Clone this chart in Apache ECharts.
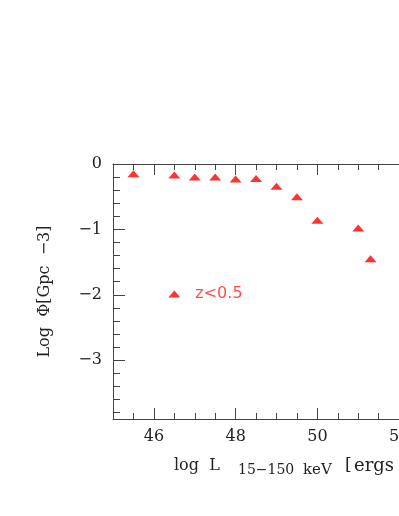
<!DOCTYPE html>
<html>
<head>
<meta charset="utf-8">
<script src="https://cdn.jsdelivr.net/npm/echarts@6/dist/echarts.min.js"></script>
<style>
  html, body { margin: 0; padding: 0; background: #fff; }
  #chart { width: 399px; height: 516px; }
</style>
</head>
<body>
<div id="chart"></div>
<script>
// luminosity function points, z < 0.5
var logL = [45.5, 46.5, 47, 47.5, 48, 48.5, 49, 49.5, 50, 51, 51.3]
var logPhi = [-0.15, -0.17, -0.2, -0.2, -0.23, -0.22, -0.34, -0.5, -0.86, -0.98, -1.45]
// key marker for the label "z<0.5"
var keyPoint = [46.5, -1.99]
var keyText = 'z<0.5'

var xMajor = [46, 48, 50, 52]
var xMinor = [45.5, 46.5, 47, 47.5, 48.5, 49, 49.5, 50.5, 51, 51.5, 52.5]
var yMajor = [0, -1, -2, -3]
var yMinor = [-0.2, -0.4, -0.6, -0.8, -1.2, -1.4, -1.6, -1.8, -2.2, -2.4, -2.6, -2.8, -3.2, -3.4, -3.6, -3.8]

var lineColor = '#444'
var serif = 'DejaVu Serif'

function xAx (pos, ticks, len, showLine, showLabel) {
  return {
    type: 'value', position: pos, min: 45, max: 53,
    axisLine: { show: showLine, onZero: false, lineStyle: { color: lineColor, width: 1 } },
    splitLine: { show: false },
    axisTick: { show: true, inside: true, length: len, customValues: ticks, lineStyle: { color: lineColor } },
    axisLabel: {
      show: showLabel, customValues: ticks, margin: 10,
      fontFamily: serif, fontSize: 16, color: '#222'
    }
  }
}

function yAx (pos, ticks, len, showLine, showLabel) {
  return {
    type: 'value', position: pos, min: -3.9, max: 0,
    axisLine: { show: showLine, onZero: false, lineStyle: { color: lineColor, width: 1 } },
    splitLine: { show: false },
    axisTick: { show: true, inside: true, length: len, customValues: ticks, lineStyle: { color: lineColor } },
    axisLabel: {
      show: showLabel, customValues: ticks, margin: 11,
      fontFamily: serif, fontSize: 16, color: '#222',
      formatter: function (v) { return String(v).replace('-', '\u2212') }
    }
  }
}

var chart = echarts.init(document.getElementById('chart'))

var option = {
  animation: false,
  backgroundColor: '#fff',
  grid: { left: 113, top: 164, width: 327, height: 255, outerBoundsMode: 'none', containLabel: false },
  xAxis: [
    xAx('bottom', xMajor, 11, true, true),
    xAx('bottom', xMinor, 6, false, false),
    xAx('top', xMajor, 11, true, false),
    xAx('top', xMinor, 6, false, false)
  ],
  yAxis: [
    (function () {
      var a = yAx('left', yMajor, 12, true, true)
      a.name = 'Log  \u03a6[Gpc  \u22123]'
      a.nameLocation = 'middle'
      a.nameRotate = 90
      a.nameGap = 60
      a.nameTextStyle = { fontFamily: serif, fontSize: 16, color: '#222' }
      return a
    })(),
    yAx('left', yMinor, 7, false, false),
    yAx('right', yMajor, 12, true, false),
    yAx('right', yMinor, 7, false, false)
  ],
  series: [
    {
      type: 'scatter',
      xAxisIndex: 0, yAxisIndex: 0,
      symbol: 'triangle',
      symbolSize: [12, 7],
      itemStyle: { color: '#ff0000' },
      data: logL.map(function (x, i) { return [x, logPhi[i]] })
    },
    {
      type: 'scatter',
      xAxisIndex: 0, yAxisIndex: 0,
      symbol: 'triangle',
      symbolSize: [12, 7],
      itemStyle: { color: '#ff0000' },
      label: {
        show: true, position: 'right', distance: 15,
        formatter: keyText,
        fontFamily: 'DejaVu Sans', fontSize: 16, color: '#ff2020'
      },
      data: [keyPoint]
    }
  ],
  graphic: [
    { type: 'text', left: 174, top: 458, style: { text: 'log  L', font: '16px "DejaVu Serif"', fill: '#222' } },
    { type: 'text', left: 238, top: 463, style: { text: '15\u2212150', font: '14px "DejaVu Serif"', fill: '#222' } },
    { type: 'text', left: 303, top: 463, style: { text: 'keV', font: '15px "DejaVu Serif"', fill: '#222' } },
    { type: 'text', left: 345, top: 457, style: { text: '[', font: '17px "DejaVu Serif"', fill: '#222' } },
    { type: 'text', left: 354, top: 457, style: { text: 'ergs   s\u207b\u00b9]', font: '18px "DejaVu Serif"', fill: '#222' } }
  ]
}

chart.setOption(option)
</script>
</body>
</html>
